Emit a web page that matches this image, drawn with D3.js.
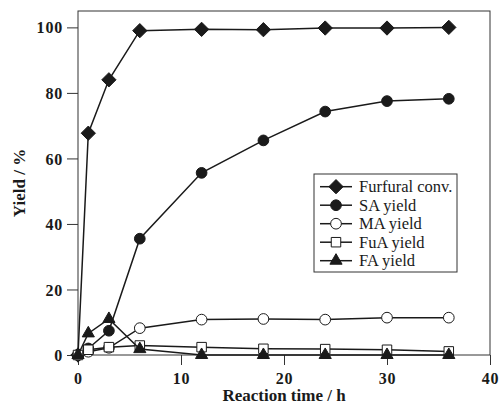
<!DOCTYPE html>
<html>
<head>
<meta charset="utf-8">
<script src="https://cdn.jsdelivr.net/npm/d3@7"></script>
<style>
  body { margin: 0; background: #fff; }
  svg { display: block; }
</style>
</head>
<body>
<svg id="chart"></svg>
<script>
const times = [0, 1, 3, 6, 12, 18, 24, 30, 36];
const furfuralConv = [0, 67.7, 84.0, 99.0, 99.4, 99.3, 99.8, 99.8, 100.0];
const saYield = [0, 2.0, 7.4, 35.5, 55.6, 65.5, 74.3, 77.5, 78.2];
const maYield = [0, 1.0, 2.2, 8.2, 10.8, 11.0, 10.8, 11.4, 11.4];
const fuaYield = [0, 1.6, 2.4, 2.9, 2.4, 1.9, 1.8, 1.6, 1.1];
const faYield = [0, 6.6, 11.0, 1.8, 0, 0, 0, 0, 0];
const xTicks = [0, 10, 20, 30, 40];
const yTicks = [0, 20, 40, 60, 80, 100];

const series = [
    { name: "Furfural conv.", values: furfuralConv, shape: "diamond", fill: "#1a1a1a" },
    { name: "SA yield", values: saYield, shape: "circle", fill: "#1a1a1a" },
    { name: "MA yield", values: maYield, shape: "circle", fill: "#fff" },
    { name: "FuA yield", values: fuaYield, shape: "square", fill: "#fff" },
    { name: "FA yield", values: faYield, shape: "triangle", fill: "#1a1a1a" }
];

const W = 500, H = 404;
const margin = { top: 11, right: 10, bottom: 49, left: 78 },
      width = W - margin.left - margin.right,
      height = H - margin.top - margin.bottom;

const svg = d3.select("#chart").attr("width", W).attr("height", H);
const g = svg.append("g").attr("transform", `translate(${margin.left},${margin.top})`);

const x = d3.scaleLinear().domain([0, 40]).range([0, width]);
const y = d3.scaleLinear().domain([0, 105]).range([height, 0]);

const ink = "#1a1a1a";
const font = "'Liberation Serif', 'Times New Roman', serif";

function markerPath(shape) {
    if (shape === "diamond") return d3.symbol(d3.symbolDiamond2, 130)();
    if (shape === "circle") return d3.symbol(d3.symbolCircle, 90)();
    if (shape === "square") return d3.symbol(d3.symbolSquare, 90)();
    return d3.symbol(d3.symbolTriangle, 64)();
}

// frame
g.append("rect")
    .attr("width", width).attr("height", height)
    .attr("fill", "none").attr("stroke", "#333").attr("stroke-width", 1);

// axes
const xAxis = g.append("g")
    .attr("transform", `translate(0,${height})`)
    .call(d3.axisBottom(x).tickValues(xTicks).tickSize(10).tickPadding(8).tickFormat(d3.format("d")));
const yAxis = g.append("g")
    .call(d3.axisLeft(y).tickValues(yTicks).tickSize(11).tickPadding(4).tickFormat(d3.format("d")));

[xAxis, yAxis].forEach(ax => {
    ax.select(".domain").remove();
    ax.selectAll(".tick line").attr("stroke", "#333");
    ax.selectAll(".tick text")
        .attr("fill", ink)
        .style("font-family", font)
        .style("font-size", "16px")
        .style("letter-spacing", "0.8px")
        .style("font-weight", "bold");
});
yAxis.selectAll(".tick text").attr("dy", "0.35em");

// series
const line = d3.line().x(d => x(d[0])).y(d => y(d[1]));

series.forEach(s => {
    const pts = times.map((t, i) => [t, s.values[i]]);
    g.append("path")
        .datum(pts)
        .attr("d", line)
        .attr("fill", "none")
        .attr("stroke", ink)
        .attr("stroke-width", 1.5);
    g.selectAll(null)
        .data(pts)
        .enter().append("path")
        .attr("d", markerPath(s.shape))
        .attr("transform", d => `translate(${x(d[0])},${y(d[1])})`)
        .attr("fill", s.fill)
        .attr("stroke", ink)
        .attr("stroke-width", 1);
});

// axis titles
svg.append("text")
    .attr("x", margin.left + width / 2)
    .attr("y", 401)
    .attr("text-anchor", "middle")
    .attr("fill", ink)
    .style("font-family", font)
    .style("font-size", "17px")
    .style("font-weight", "bold")
    .text("Reaction time / h");

svg.append("text")
    .attr("transform", `translate(25,${margin.top + height / 2}) rotate(-90)`)
    .attr("text-anchor", "middle")
    .attr("fill", ink)
    .style("font-family", font)
    .style("font-size", "17px")
    .style("font-weight", "bold")
    .text("Yield / %");

// legend
const legend = svg.append("g").attr("transform", "translate(314,174)");
legend.append("rect")
    .attr("width", 143).attr("height", 98)
    .attr("fill", "#fff").attr("stroke", "#333").attr("stroke-width", 1);

series.forEach((s, i) => {
    const row = legend.append("g").attr("transform", `translate(0,${12.7 + i * 18.5})`);
    row.append("line")
        .attr("x1", 6).attr("x2", 38)
        .attr("stroke", ink).attr("stroke-width", 1.5);
    row.append("path")
        .attr("d", markerPath(s.shape))
        .attr("transform", "translate(22,0)")
        .attr("fill", s.fill)
        .attr("stroke", ink);
    row.append("text")
        .attr("x", 45)
        .attr("dy", "0.35em")
        .attr("fill", ink)
        .style("font-family", font)
        .style("font-size", "16.5px")
        .text(s.name);
});
</script>
</body>
</html>
